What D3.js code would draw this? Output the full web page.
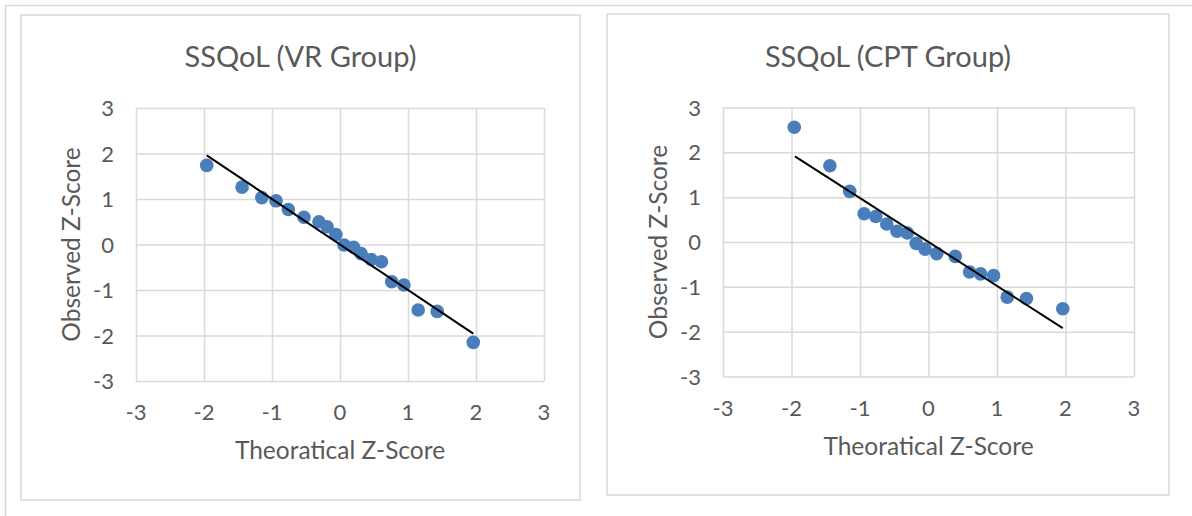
<!DOCTYPE html>
<html>
<head>
<meta charset="utf-8">
<script src="https://cdn.jsdelivr.net/npm/d3@7"></script>
<style>
  html, body { margin: 0; padding: 0; background: #fff; }
  svg { display: block; }
  text { font-family: Lato, "Open Sans", sans-serif; fill: #595959; }
</style>
</head>
<body>
<svg id="chart" width="1192" height="516"></svg>
<script>
// Q-Q plots of SSQoL z-scores, two groups side by side

const axisTicks = [-3, -2, -1, 0, 1, 2, 3];

// VR group
const vrTitle = "SSQoL (VR Group)";
const vrTheoretical = [-1.96, -1.44, -1.15, -0.94, -0.76, -0.53, -0.31, -0.19, -0.06, 0.06, 0.2, 0.31, 0.46, 0.61, 0.76, 0.94, 1.15, 1.43, 1.96];
const vrObserved = [1.74, 1.26, 1.03, 0.96, 0.77, 0.6, 0.5, 0.39, 0.22, -0.01, -0.06, -0.2, -0.33, -0.38, -0.82, -0.89, -1.44, -1.47, -2.15];
const vrLineX = [-1.96, 1.96];
const vrLineY = [1.96, -1.96];

// CPT group
const cptTitle = "SSQoL (CPT Group)";
const cptTheoretical = [-1.96, -1.44, -1.15, -0.94, -0.77, -0.61, -0.46, -0.31, -0.18, -0.05, 0.12, 0.39, 0.6, 0.76, 0.95, 1.15, 1.43, 1.96];
const cptObserved = [2.56, 1.70, 1.13, 0.63, 0.57, 0.40, 0.24, 0.20, -0.03, -0.16, -0.26, -0.32, -0.67, -0.71, -0.75, -1.23, -1.26, -1.49];
const cptLineX = [-1.95, 1.96];
const cptLineY = [1.91, -1.92];

const xLabel = "Theoratical Z-Score";
const yLabel = "Observed Z-Score";

const gridColor = '#d9d9d9';
const dotColor = '#4a7ebb';

const svg = d3.select('#chart');

// outer frame (only top and left edges are visible in the picture)
svg.append('rect')
  .attr('x', 5.5).attr('y', 5.5)
  .attr('width', 1300).attr('height', 600)
  .attr('fill', 'none')
  .attr('stroke', gridColor)
  .attr('stroke-width', 1.5);

function drawChart(box, plot, title, xs, ys, lineX, lineY) {
  const g = svg.append('g');

  // chart area border
  g.append('rect')
    .attr('x', box.x).attr('y', box.y)
    .attr('width', box.w).attr('height', box.h)
    .attr('fill', '#fff')
    .attr('stroke', gridColor)
    .attr('stroke-width', 1.5);

  const x = d3.scaleLinear().domain([-3, 3]).range([plot.left, plot.right]);
  const y = d3.scaleLinear().domain([-3, 3]).range([plot.bottom, plot.top]);

  // gridlines
  g.append('g')
    .attr('transform', `translate(0,${plot.bottom})`)
    .call(d3.axisBottom(x).tickValues(axisTicks).tickSize(-(plot.bottom - plot.top)).tickFormat(''))
    .call(s => s.select('.domain').remove())
    .call(s => s.selectAll('line').attr('stroke', gridColor).attr('stroke-width', 1.5));

  g.append('g')
    .attr('transform', `translate(${plot.left},0)`)
    .call(d3.axisLeft(y).tickValues(axisTicks).tickSize(-(plot.right - plot.left)).tickFormat(''))
    .call(s => s.select('.domain').remove())
    .call(s => s.selectAll('line').attr('stroke', gridColor).attr('stroke-width', 1.5));

  // tick labels
  g.append('g').selectAll('text')
    .data(axisTicks)
    .join('text')
    .attr('x', d => x(d))
    .attr('y', plot.bottom + 39)
    .attr('text-anchor', 'middle')
    .attr('font-size', 22)
    .text(d => d);

  g.append('g').selectAll('text')
    .data(axisTicks)
    .join('text')
    .attr('x', plot.left - 22)
    .attr('y', d => y(d) + 8)
    .attr('text-anchor', 'end')
    .attr('font-size', 22)
    .text(d => d);

  // titles
  g.append('text')
    .attr('x', box.x + box.w / 2)
    .attr('y', 67)
    .attr('text-anchor', 'middle')
    .attr('font-size', 29)
    .text(title);

  g.append('text')
    .attr('x', (plot.left + plot.right) / 2)
    .attr('y', plot.bottom + 78)
    .attr('text-anchor', 'middle')
    .attr('font-size', 24.5)
    .text(xLabel);

  g.append('text')
    .attr('transform', `translate(${plot.left - 56},${(plot.top + plot.bottom) / 2}) rotate(-90)`)
    .attr('text-anchor', 'middle')
    .attr('font-size', 24.5)
    .text(yLabel);

  // points
  g.append('g').selectAll('circle')
    .data(xs.map((v, i) => [v, ys[i]]))
    .join('circle')
    .attr('cx', d => x(d[0]))
    .attr('cy', d => y(d[1]))
    .attr('r', 6.8)
    .attr('fill', dotColor);

  // reference line
  g.append('line')
    .attr('x1', x(lineX[0])).attr('y1', y(lineY[0]))
    .attr('x2', x(lineX[1])).attr('y2', y(lineY[1]))
    .attr('stroke', '#000')
    .attr('stroke-width', 2);
}

drawChart({x: 21, y: 15, w: 559, h: 485},
  {left: 136, right: 544, top: 108, bottom: 381},
  vrTitle, vrTheoretical, vrObserved, vrLineX, vrLineY);

drawChart({x: 607, y: 14, w: 562, h: 481},
  {left: 723, right: 1134, top: 107.5, bottom: 376.5},
  cptTitle, cptTheoretical, cptObserved, cptLineX, cptLineY);
</script>
</body>
</html>
